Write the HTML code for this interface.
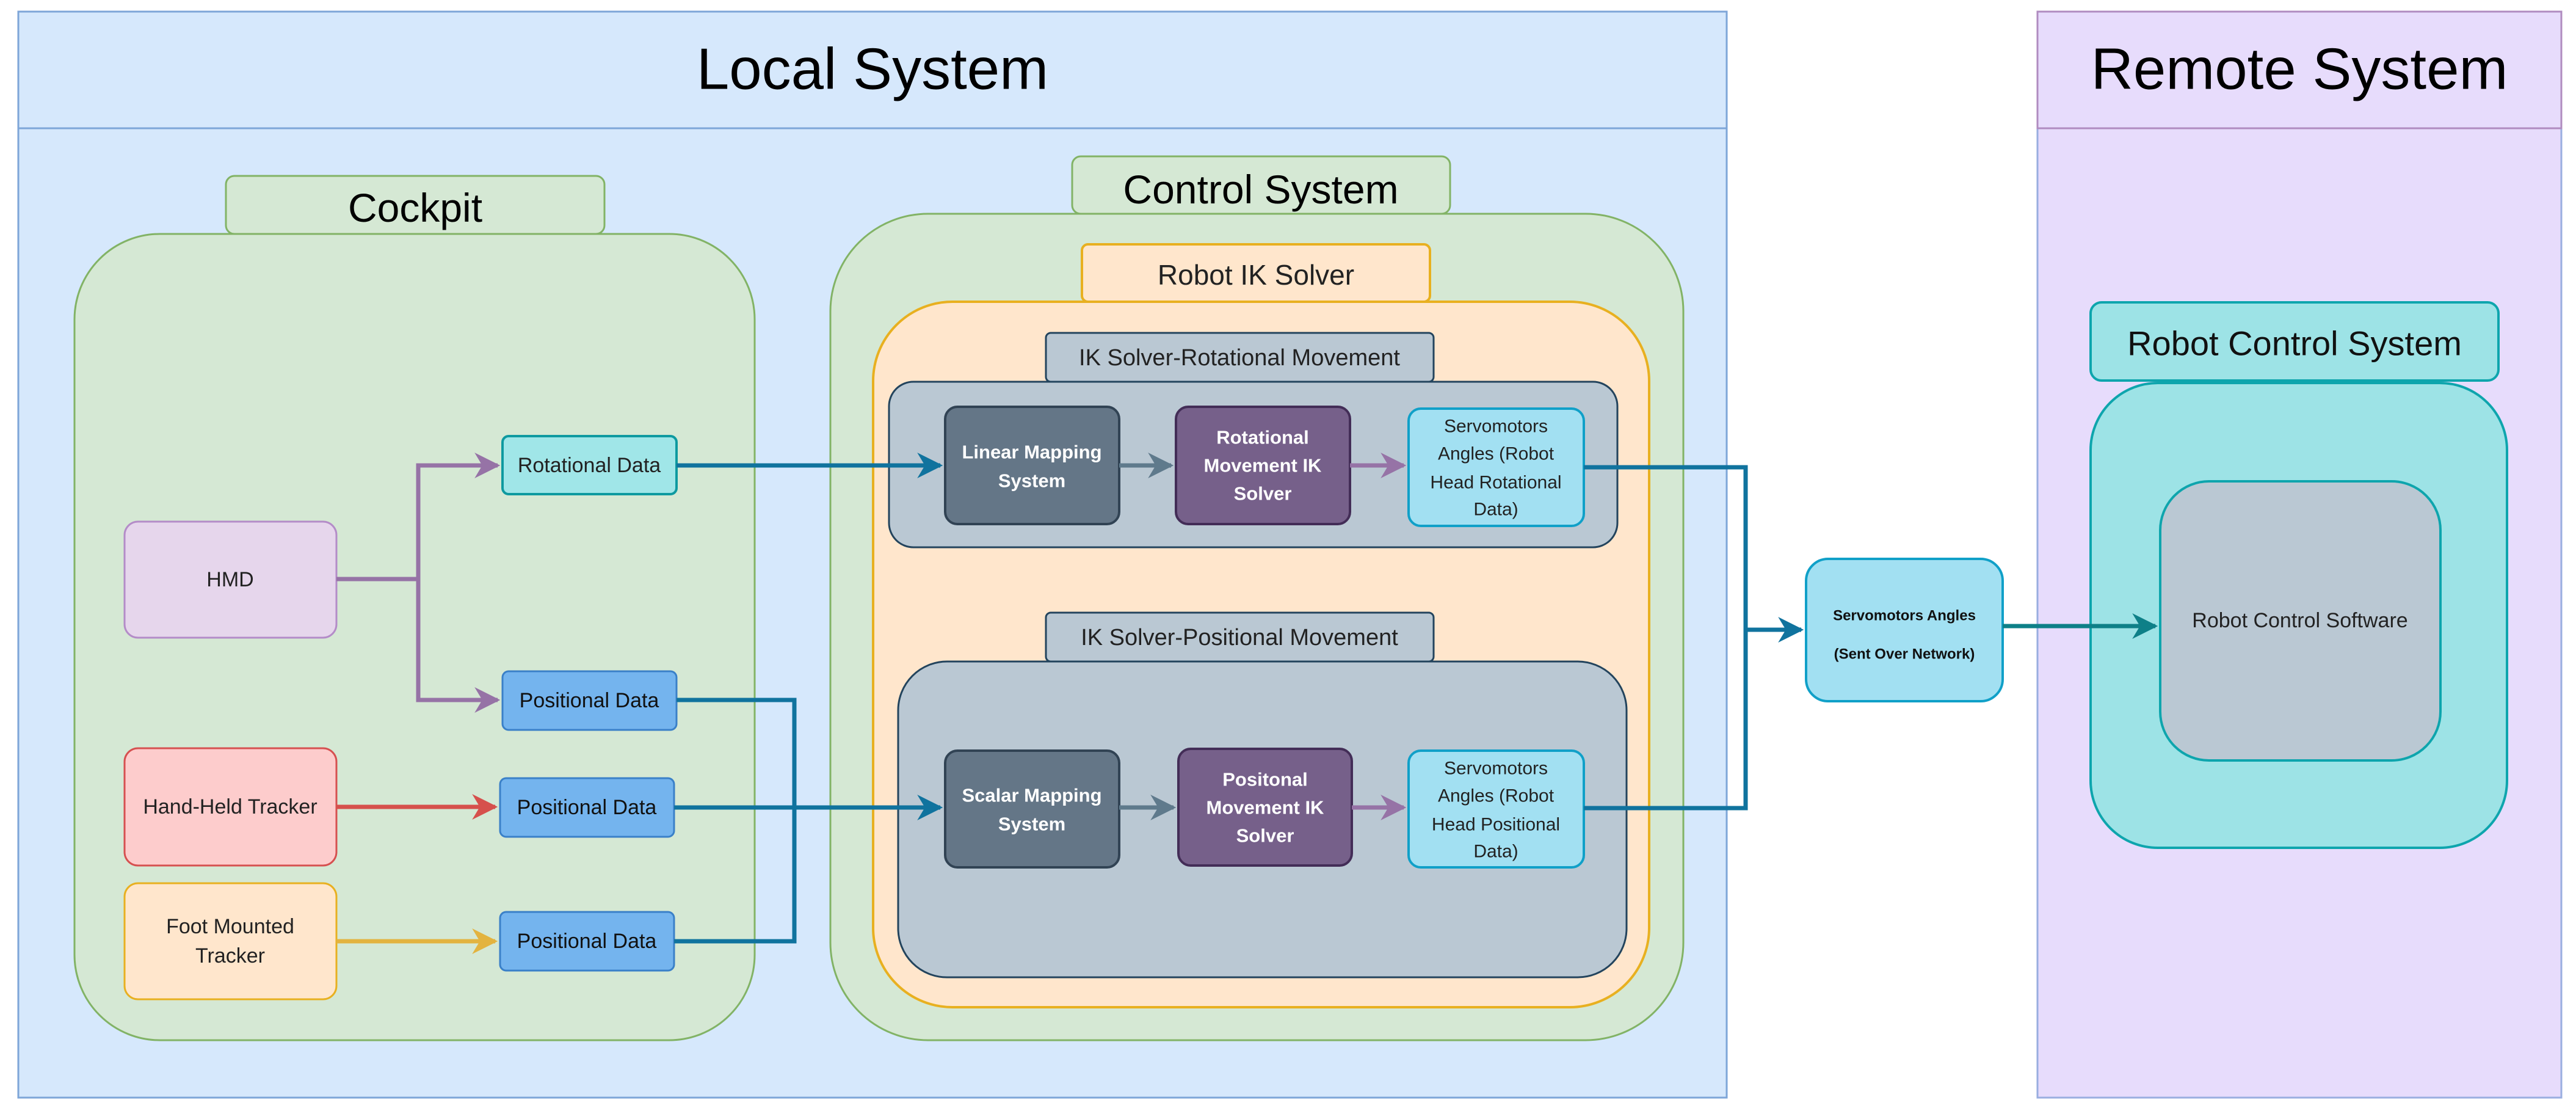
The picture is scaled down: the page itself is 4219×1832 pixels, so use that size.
<!DOCTYPE html>
<html><head><meta charset="utf-8"><style>
html,body{margin:0;padding:0;background:#fff;}
svg{display:block;}
text{font-family:"Liberation Sans",sans-serif;text-anchor:middle;dominant-baseline:central;}
</style></head><body>
<svg width="4219" height="1832" viewBox="0 0 4219 1832" xmlns="http://www.w3.org/2000/svg">
<defs>
<marker id="aP" viewBox="0 0 10 10" refX="9" refY="5" markerWidth="6" markerHeight="6" orient="auto" markerUnits="strokeWidth"><path d="M0,0 L10,5 L0,10 L3,5 z" fill="#9673a6"/></marker>
<marker id="aR" viewBox="0 0 10 10" refX="9" refY="5" markerWidth="6" markerHeight="6" orient="auto" markerUnits="strokeWidth"><path d="M0,0 L10,5 L0,10 L3,5 z" fill="#d6504c"/></marker>
<marker id="aY" viewBox="0 0 10 10" refX="9" refY="5" markerWidth="6" markerHeight="6" orient="auto" markerUnits="strokeWidth"><path d="M0,0 L10,5 L0,10 L3,5 z" fill="#e3b33f"/></marker>
<marker id="aB" viewBox="0 0 10 10" refX="9" refY="5" markerWidth="6" markerHeight="6" orient="auto" markerUnits="strokeWidth"><path d="M0,0 L10,5 L0,10 L3,5 z" fill="#10739e"/></marker>
<marker id="aG" viewBox="0 0 10 10" refX="9" refY="5" markerWidth="6" markerHeight="6" orient="auto" markerUnits="strokeWidth"><path d="M0,0 L10,5 L0,10 L3,5 z" fill="#5f7a8c"/></marker>
<marker id="aT" viewBox="0 0 10 10" refX="9" refY="5" markerWidth="6" markerHeight="6" orient="auto" markerUnits="strokeWidth"><path d="M0,0 L10,5 L0,10 L3,5 z" fill="#0e8088"/></marker>
</defs>

<rect x="30" y="19" width="2798" height="1778" fill="#d6e8fc" stroke="#7ea6d8" stroke-width="3"/>
<line x1="30" y1="210" x2="2828" y2="210" stroke="#7ea6d8" stroke-width="3"/>
<text x="1429" y="113" font-size="96" fill="#000">Local System</text>

<rect x="3337" y="19" width="858" height="1778" fill="#e7dcfc" stroke="#9aaee0" stroke-width="3"/>
<line x1="3337" y1="210" x2="4195" y2="210" stroke="#b08cc0" stroke-width="3"/>
<rect x="3337" y="19" width="858" height="191" fill="none" stroke="#b08cc0" stroke-width="3"/>
<text x="3766" y="113" font-size="96" fill="#000">Remote System</text>

<rect x="370" y="288" width="620" height="95" rx="14" fill="#d5e8d4" stroke="#82b366" stroke-width="3"/>
<text x="680" y="340" font-size="66">Cockpit</text>
<rect x="122" y="383" width="1114" height="1320" rx="140" fill="#d5e8d4" stroke="#82b366" stroke-width="3"/>

<rect x="1756" y="256" width="619" height="94" rx="14" fill="#d5e8d4" stroke="#82b366" stroke-width="3"/>
<text x="2065" y="310" font-size="66">Control System</text>
<rect x="1360" y="350" width="1397" height="1353" rx="160" fill="#d5e8d4" stroke="#82b366" stroke-width="3"/>

<rect x="1772" y="400" width="570" height="94" rx="10" fill="#ffe6cc" stroke="#e8b020" stroke-width="4"/>
<text x="2057" y="450" font-size="46" fill="#222">Robot IK Solver</text>
<rect x="1430" y="494" width="1271" height="1155" rx="130" fill="#ffe6cc" stroke="#e8b020" stroke-width="4"/>

<rect x="1713" y="545" width="635" height="80" rx="8" fill="#bac8d3" stroke="#23445d" stroke-width="3"/>
<text x="2030" y="586" font-size="38" fill="#222">IK Solver-Rotational Movement</text>
<rect x="1456" y="625" width="1193" height="271" rx="40" fill="#bac8d3" stroke="#23445d" stroke-width="3"/>

<rect x="1713" y="1003" width="635" height="80" rx="8" fill="#bac8d3" stroke="#23445d" stroke-width="3"/>
<text x="2030" y="1044" font-size="38" fill="#222">IK Solver-Positional Movement</text>
<rect x="1471" y="1083" width="1193" height="517" rx="80" fill="#bac8d3" stroke="#23445d" stroke-width="3"/>

<rect x="1548" y="666" width="285" height="192" rx="20" fill="#647687" stroke="#314354" stroke-width="4"/>
<text x="1690" y="740" font-size="31" fill="#fff" font-weight="bold">Linear Mapping</text>
<text x="1690" y="787" font-size="31" fill="#fff" font-weight="bold">System</text>
<rect x="1926" y="666" width="285" height="192" rx="20" fill="#76608a" stroke="#432d57" stroke-width="4"/>
<text x="2068" y="716" font-size="31" fill="#fff" font-weight="bold">Rotational</text>
<text x="2068" y="762" font-size="31" fill="#fff" font-weight="bold">Movement IK</text>
<text x="2068" y="808" font-size="31" fill="#fff" font-weight="bold">Solver</text>
<rect x="2307" y="669" width="287" height="192" rx="20" fill="#a2e0f2" stroke="#10a0c8" stroke-width="4"/>
<text x="2450" y="698" font-size="30" fill="#222">Servomotors</text>
<text x="2450" y="743" font-size="30" fill="#222">Angles (Robot</text>
<text x="2450" y="790" font-size="30" fill="#222">Head Rotational</text>
<text x="2450" y="834" font-size="30" fill="#222">Data)</text>

<rect x="1548" y="1229" width="285" height="191" rx="20" fill="#647687" stroke="#314354" stroke-width="4"/>
<text x="1690" y="1302" font-size="31" fill="#fff" font-weight="bold">Scalar Mapping</text>
<text x="1690" y="1349" font-size="31" fill="#fff" font-weight="bold">System</text>
<rect x="1930" y="1226" width="284" height="191" rx="20" fill="#76608a" stroke="#432d57" stroke-width="4"/>
<text x="2072" y="1276" font-size="31" fill="#fff" font-weight="bold">Positonal</text>
<text x="2072" y="1322" font-size="31" fill="#fff" font-weight="bold">Movement IK</text>
<text x="2072" y="1368" font-size="31" fill="#fff" font-weight="bold">Solver</text>
<rect x="2307" y="1229" width="287" height="191" rx="20" fill="#a2e0f2" stroke="#10a0c8" stroke-width="4"/>
<text x="2450" y="1258" font-size="30" fill="#222">Servomotors</text>
<text x="2450" y="1303" font-size="30" fill="#222">Angles (Robot</text>
<text x="2450" y="1350" font-size="30" fill="#222">Head Positional</text>
<text x="2450" y="1394" font-size="30" fill="#222">Data)</text>

<rect x="204" y="854" width="347" height="190" rx="22" fill="#e6d6ec" stroke="#b48cc8" stroke-width="3"/>
<text x="377" y="949" font-size="34" fill="#222">HMD</text>
<rect x="204" y="1225" width="347" height="192" rx="22" fill="#fdcccc" stroke="#d65050" stroke-width="3"/>
<text x="377" y="1321" font-size="34" fill="#222">Hand-Held Tracker</text>
<rect x="204" y="1446" width="347" height="190" rx="22" fill="#ffe6cc" stroke="#e8b020" stroke-width="3"/>
<text x="377" y="1517" font-size="34" fill="#222">Foot Mounted</text>
<text x="377" y="1565" font-size="34" fill="#222">Tracker</text>

<rect x="823" y="714" width="285" height="95" rx="10" fill="#a0e6e8" stroke="#0e9aa0" stroke-width="4"/>
<text x="965" y="762" font-size="34" fill="#222">Rotational Data</text>
<rect x="823" y="1099" width="285" height="96" rx="10" fill="#74b4ee" stroke="#3a80c8" stroke-width="3"/>
<text x="965" y="1147" font-size="34" fill="#111">Positional Data</text>
<rect x="819" y="1274" width="285" height="96" rx="10" fill="#74b4ee" stroke="#3a80c8" stroke-width="3"/>
<text x="961" y="1322" font-size="34" fill="#111">Positional Data</text>
<rect x="819" y="1493" width="285" height="96" rx="10" fill="#74b4ee" stroke="#3a80c8" stroke-width="3"/>
<text x="961" y="1541" font-size="34" fill="#111">Positional Data</text>

<path d="M551,948 H685 V762 H815" fill="none" stroke="#9673a6" stroke-width="7" marker-end="url(#aP)"/>
<path d="M685,948 V1146 H815" fill="none" stroke="#9673a6" stroke-width="7" marker-end="url(#aP)"/>
<path d="M551,1321 H811" fill="none" stroke="#d6504c" stroke-width="7" marker-end="url(#aR)"/>
<path d="M551,1541 H811" fill="none" stroke="#e3b33f" stroke-width="7" marker-end="url(#aY)"/>

<path d="M1108,762 H1540" fill="none" stroke="#10739e" stroke-width="7" marker-end="url(#aB)"/>
<path d="M1108,1146 H1301 V1541 H1104" fill="none" stroke="#10739e" stroke-width="7"/>
<path d="M1104,1322 H1540" fill="none" stroke="#10739e" stroke-width="7" marker-end="url(#aB)"/>

<path d="M1833,762 H1918" fill="none" stroke="#5f7a8c" stroke-width="7" marker-end="url(#aG)"/>
<path d="M2211,762 H2299" fill="none" stroke="#9673a6" stroke-width="7" marker-end="url(#aP)"/>
<path d="M1833,1322 H1922" fill="none" stroke="#5f7a8c" stroke-width="7" marker-end="url(#aG)"/>
<path d="M2214,1322 H2299" fill="none" stroke="#9673a6" stroke-width="7" marker-end="url(#aP)"/>

<path d="M2594,765 H2859 V1323 H2594" fill="none" stroke="#10739e" stroke-width="7"/>
<path d="M2859,1031 H2950" fill="none" stroke="#10739e" stroke-width="7" marker-end="url(#aB)"/>

<rect x="2958" y="915" width="322" height="233" rx="36" fill="#a2e0f2" stroke="#10a0c8" stroke-width="4"/>
<text x="3119" y="1008" font-size="24" font-weight="bold" fill="#111">Servomotors Angles</text>
<text x="3119" y="1071" font-size="24" font-weight="bold" fill="#111">(Sent Over Network)</text>

<rect x="3424" y="495" width="668" height="128" rx="18" fill="#9de3e6" stroke="#0ea5ad" stroke-width="4"/>
<text x="3758" y="562" font-size="56" fill="#111">Robot Control System</text>
<rect x="3424" y="627" width="682" height="761" rx="110" fill="#9de3e6" stroke="#0ea5ad" stroke-width="4"/>
<rect x="3538" y="788" width="459" height="457" rx="80" fill="#bac8d3" stroke="#0ea5ad" stroke-width="4"/>
<text x="3767" y="1016" font-size="34" fill="#222">Robot Control Software</text>
<path d="M3280,1025 H3530" fill="none" stroke="#0e8088" stroke-width="7" marker-end="url(#aT)"/>
</svg>
</body></html>
